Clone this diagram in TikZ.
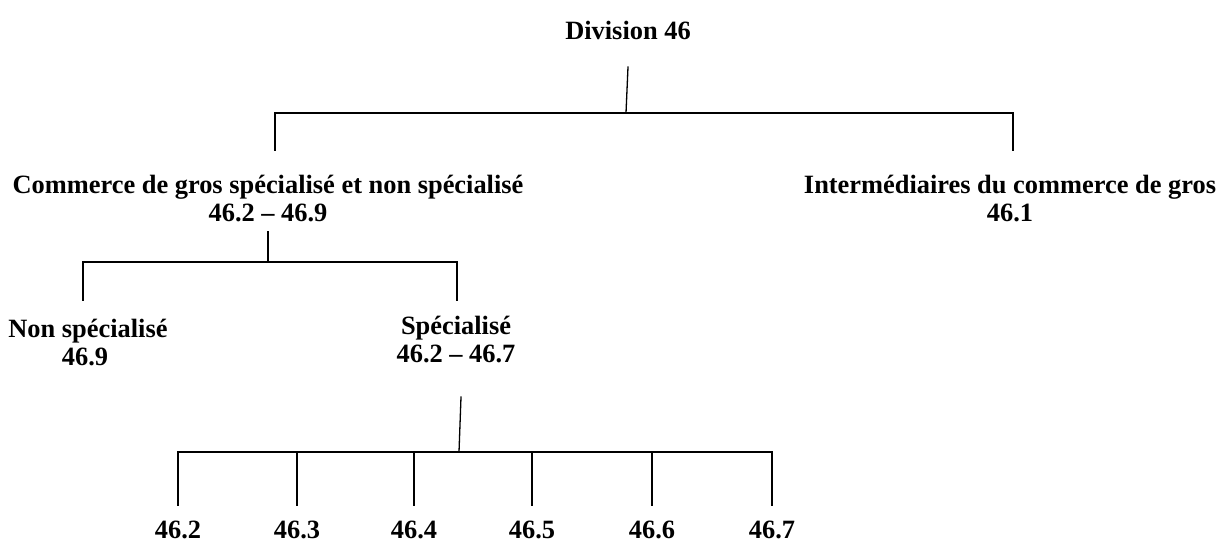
\documentclass[tikz,border=0pt]{standalone}
\usepackage{fontspec}
\setmainfont{Liberation Serif}
\begin{document}
\begin{tikzpicture}[x=1pt,y=-1pt,
  lbl/.style={inner sep=0pt,align=center,font=\bfseries\fontsize{26.4}{28}\selectfont},
  conn/.style={line width=1.3pt,line cap=rect}]
\useasboundingbox[fill=white] (0,0) rectangle (1226,542);
% texts
\node[lbl] (div) at (628,30) {Division 46};
\node[lbl] (com) at (268,199) {Commerce de gros spécialisé et non spécialisé\\46.2 -- 46.9};
\node[lbl] (int) at (1010,199) {Intermédiaires du commerce de gros\\46.1};
\node[lbl] (non) at (88,343) {Non spécialisé\\\hspace*{-6pt}46.9};
\node[lbl] (spe) at (456,340) {Spécialisé\\46.2 -- 46.7};
\foreach \n/\x in {2/178,3/297,4/414,5/532,6/652,7/772}{
  \node[lbl] (l\n) at (\x,530) {46.\n};
}
% level 1
\coordinate (s1t) at (628,67);
\coordinate (s1b) at (626,113);
\coordinate (b1l) at (275,113);
\coordinate (b1r) at (1013,113);
\coordinate (e1l) at (275,150);
\coordinate (e1r) at (1013,150);
\draw[conn] (s1t) -- (s1b);
\draw[conn] (e1l) -- (b1l) -- (b1r) -- (e1r);
% level 2
\coordinate (s2t) at (268,232);
\coordinate (s2b) at (268,262);
\coordinate (b2l) at (83,262);
\coordinate (b2r) at (457,262);
\coordinate (e2l) at (83,300);
\coordinate (e2r) at (457,300);
\draw[conn] (s2t) -- (s2b);
\draw[conn] (e2l) -- (b2l) -- (b2r) -- (e2r);
% level 3
\coordinate (s3t) at (461,397);
\coordinate (s3b) at (459,452);
\draw[conn] (s3t) -- (s3b);
\coordinate (b3l) at (178,452);
\coordinate (b3r) at (772,452);
\draw[conn] (b3l) -- (b3r);
\foreach \x in {178,297,414,532,652,772}{
  \draw[conn] (\x,452) -- (\x,505);
}
\end{tikzpicture}
\end{document}
